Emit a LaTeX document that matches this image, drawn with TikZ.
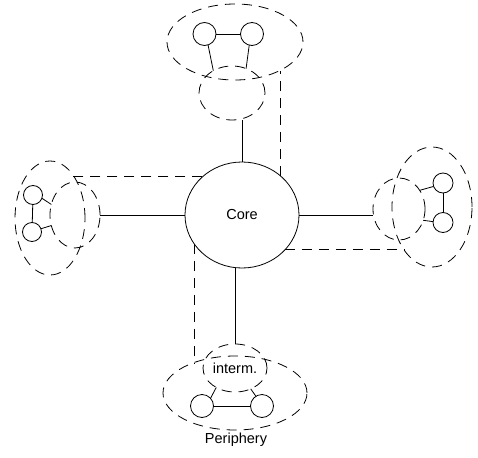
\documentclass[tikz,border=0pt]{standalone}
\usepackage{fontspec}
\setmainfont{Liberation Sans}
\usetikzlibrary{shapes.geometric}
\begin{document}
\begin{tikzpicture}[x=1pt,y=-1pt,
  every node/.style={inner sep=0pt, outer sep=0pt},
  ln/.style={line width=0.8pt},
  dl/.style={line width=0.8pt, dash pattern=on 10pt off 7pt},
  oval/.style={ellipse, draw, dl, minimum width=#1},
  small/.style={circle, draw, ln, minimum size=#1},
  lbl/.style={font=\fontsize{14.5}{16}\selectfont}]
\useasboundingbox (0,0) rectangle (478,457);
% core
\node[ellipse, draw, ln, minimum width=114pt, minimum height=106pt, lbl] (core) at (242,215) {Core};
% top cluster
\node[oval=136pt, minimum height=76pt] (topbig) at (235,42) {};
\node[oval=66pt, minimum height=54pt] (topint) at (232,93) {};
\node[small=23pt] (tl) at (204.5,34) {};
\node[small=23pt] (tr) at (252,34) {};
% left cluster
\node[oval=70pt, minimum height=114pt] (leftbig) at (50,218) {};
\node[oval=50pt, minimum height=66pt] (leftint) at (75,215) {};
\node[small=19pt] (lt) at (33,195) {};
\node[small=19pt] (lb) at (32,232) {};
% right cluster
\node[oval=80pt, minimum height=120pt] (rightbig) at (432,207) {};
\node[oval=52pt, minimum height=62pt] (rightint) at (399,209) {};
\node[small=20pt] (rt) at (443,183) {};
\node[small=20pt] (rb) at (443,222.5) {};
% bottom cluster
\node[oval=144pt, minimum height=74pt] (botbig) at (235,393) {};
\node[oval=64pt, minimum height=48pt, lbl] (botint) at (235,368) {interm.};
\node[small=23pt] (bl) at (202,406) {};
\node[small=23pt] (br) at (262,406) {};
\node[lbl] (periph) at (236,440) {Periphery};
% cluster inner links
\draw[ln] (tl) -- (tr);
\draw[ln] (tl.-72) -- (topint.130);
\draw[ln] (tr.-104) -- (topint.60);
\draw[ln] (lt) -- (lb);
\draw[ln] (lt.-20) -- (leftint.156);
\draw[ln] (lb.20) -- (leftint.204);
\draw[ln] (rt) -- (rb);
\draw[ln] (rt.200) -- (rightint.42);
\draw[ln] (rb.175) -- (rightint.-25);
\draw[ln] (bl) -- (br);
\draw[ln] (bl.42) -- (botint.226);
\draw[ln] (br.122) -- (botint.-53);
% solid core links
\draw[ln] (core.north) -- (core.north |- topint.south);
\draw[ln] (core.west) -- (leftint.east);
\draw[ln] (core.east) -- (core.east -| rightint.west);
\draw[ln] (botint.north) -- (botint.north |- core.south);
% dashed core links
\draw[dl] (core.46) -- (core.46 |- topbig.-33);
\draw[dl] (core.136) -- (core.136 -| leftbig.61);
\draw[dl] (core.-39) -- (core.-39 -| rightbig.237);
\draw[dl] (core.211) -- (core.211 |- botbig.144);
\end{tikzpicture}
\end{document}
